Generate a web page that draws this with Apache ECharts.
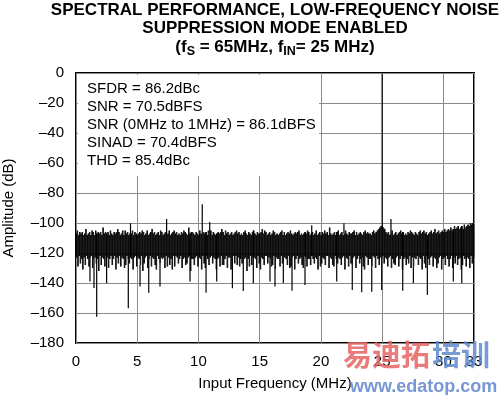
<!DOCTYPE html>
<html><head><meta charset="utf-8">
<script src="https://cdn.jsdelivr.net/npm/echarts@6/dist/echarts.min.js"></script>
<style>html,body{margin:0;padding:0;background:#fff}#c{width:500px;height:395px}</style>
</head><body><div id="c"></div>
<script>
// ---- data ----
const titleLines = ['SPECTRAL PERFORMANCE, LOW-FREQUENCY NOISE', 'SUPPRESSION MODE ENABLED'];
const statsLines = ['SFDR = 86.2dBc', 'SNR = 70.5dBFS', 'SNR (0MHz to 1MHz) = 86.1dBFS', 'SINAD = 70.4dBFS', 'THD = 85.4dBc'];
const xMaxMHz = 32.5;          // fs/2, labelled "33"
const xMaxLabel = '33';
const yMinDb = -180, yMaxDb = 0;
const binWidthMHz = 0.05;
// noise floor bins (dB), 0.00 .. 32.50 MHz in 0.05 MHz steps (alternating local peak / local trough)
const noiseDb = [
 -107,-123,-105,-129,-108,-122,-106,-127,-107,-124,
 -106,-131,-108,-123,-107,-128,-104,-122,-108,-124,
 -107,-129,-106,-123,-108,-122,-105,-130,-106,-124,
 -108,-123,-105,-127,-107,-124,-106,-132,-107,-122,
 -106,-128,-108,-123,-103,-124,-107,-129,-106,-122,
 -107,-123,-106,-130,-108,-124,-105,-122,-107,-128,
 -108,-124,-106,-122,-107,-131,-106,-123,-104,-127,
 -106,-122,-108,-129,-107,-123,-105,-124,-108,-130,
 -105,-128,-107,-122,-106,-124,-108,-127,-107,-123,
 -107,-124,-105,-131,-108,-123,-106,-122,-107,-129,
 -108,-123,-107,-124,-106,-128,-107,-122,-105,-132,
 -106,-127,-108,-123,-107,-122,-105,-130,-108,-124,
 -107,-122,-106,-129,-104,-123,-107,-124,-106,-128,
 -108,-131,-107,-122,-106,-124,-108,-127,-105,-123,
 -106,-124,-108,-123,-107,-130,-106,-122,-108,-129,
 -107,-123,-105,-128,-108,-124,-107,-131,-106,-122,
 -105,-129,-107,-122,-106,-123,-108,-127,-107,-124,
 -108,-122,-106,-130,-107,-124,-105,-123,-106,-128,
 -107,-127,-108,-123,-103,-122,-107,-132,-106,-124,
 -106,-124,-107,-128,-108,-123,-106,-122,-107,-129,
 -108,-123,-105,-124,-107,-131,-108,-122,-106,-127,
 -107,-130,-106,-122,-108,-124,-105,-128,-107,-123,
 -105,-122,-108,-127,-106,-123,-107,-124,-108,-131,
 -107,-124,-106,-123,-107,-129,-106,-122,-104,-128,
 -106,-128,-108,-124,-105,-122,-107,-130,-106,-123,
 -108,-123,-107,-131,-106,-124,-108,-122,-107,-127,
 -106,-122,-105,-128,-107,-123,-106,-129,-108,-124,
 -107,-127,-108,-122,-106,-124,-105,-123,-107,-132,
 -108,-124,-106,-129,-107,-122,-108,-128,-106,-123,
 -105,-123,-107,-124,-108,-130,-106,-122,-107,-127,
 -107,-131,-106,-123,-104,-124,-107,-128,-105,-122,
 -106,-122,-108,-127,-107,-123,-106,-124,-108,-129,
 -107,-128,-105,-122,-106,-131,-108,-123,-107,-124,
 -108,-124,-107,-129,-106,-122,-105,-127,-108,-123,
 -106,-123,-108,-124,-107,-128,-106,-122,-107,-130,
 -105,-129,-107,-123,-108,-122,-107,-131,-106,-124,
 -107,-122,-106,-127,-105,-124,-108,-123,-107,-128,
 -108,-130,-107,-122,-106,-123,-107,-129,-105,-124,
 -106,-124,-108,-128,-107,-122,-106,-124,-108,-127,
 -107,-123,-105,-124,-108,-131,-107,-122,-106,-129,
 -108,-127,-106,-123,-107,-124,-105,-128,-107,-122,
 -106,-122,-108,-130,-103,-123,-107,-124,-108,-128,
 -107,-129,-106,-122,-108,-124,-106,-127,-105,-123,
 -108,-124,-107,-128,-106,-123,-108,-122,-107,-131,
 -105,-123,-107,-124,-108,-129,-106,-122,-107,-127,
 -107,-128,-106,-123,-105,-122,-108,-130,-106,-124,
 -108,-122,-107,-127,-106,-124,-107,-123,-108,-129,
 -106,-131,-105,-122,-107,-123,-106,-128,-107,-124,
 -107,-124,-108,-129,-106,-122,-105,-123,-107,-130,
 -106,-122,-105,-124,-104,-128,-103,-123,-102,-124,
 -101,-122,-103,-127,-104,-123,-106,-124,-107,-129,
 -106,-123,-108,-122,-107,-130,-105,-124,-108,-127,
 -107,-128,-106,-123,-108,-122,-107,-129,-106,-124,
 -105,-122,-107,-131,-106,-124,-108,-123,-107,-128,
 -108,-124,-106,-127,-107,-122,-105,-130,-106,-123,
 -107,-129,-108,-123,-106,-124,-107,-122,-108,-128,
 -106,-123,-105,-124,-107,-131,-106,-122,-105,-127,
 -107,-130,-106,-122,-108,-124,-107,-128,-106,-123,
 -105,-122,-107,-129,-106,-123,-104,-124,-107,-130,
 -106,-127,-105,-123,-107,-122,-106,-131,-105,-124,
 -106,-123,-104,-128,-106,-122,-105,-124,-104,-129,
 -105,-124,-103,-122,-105,-130,-104,-123,-102,-127,
 -104,-122,-103,-128,-102,-124,-104,-123,-103,-131,
 -102,-128,-104,-122,-101,-124,-103,-129,-102,-123,
 -101,-124,-102,-130,-100,-122,-101,-127,-100,-123,
 -101
];
// spurs and deep nulls
const spurFreqMHz = [1.14,1.47,1.69,2.50,4.27,4.45,5.23,5.94,6.86,7.40,9.31,10.31,10.62,10.92,11.49,12.77,13.66,14.48,15.84,16.25,16.93,17.64,18.70,19.25,21.29,21.88,22.56,23.33,24.15,24.96,25.00,25.72,26.68,27.55,28.69,30.81,31.50];
const spurAmpDb   = [-139,-143.3,-162.5,-140,-156.9,-100.2,-142.4,-146.5,-142.4,-97.3,-139,-87.5,-146.5,-99.3,-139,-143.5,-145.3,-140.2,-139,-142.4,-140,-145.1,-141.3,-101.5,-139,-100.2,-144.7,-146.2,-145.8,-144.7,-0.5,-97.3,-145.1,-140,-148,-139,-140.2];

// ---- build series ----
const noisePts = noiseDb.map((v, i) => [Math.round(i * binWidthMHz * 1000) / 1000, v]);
const bandItems = noisePts.slice(0, -1).map((p, i) => [p[0], p[1], noisePts[i + 1][0], noisePts[i + 1][1]]);
const spurPts = [];
spurFreqMHz.forEach((f, i) => {
  const base = noiseDb[Math.min(noiseDb.length - 1, Math.round(f / binWidthMHz))];
  spurPts.push([f, base], [f, spurAmpDb[i]], [f, base], null);
});

const FONT = '"Liberation Sans", Arial, Helvetica, sans-serif';
const chart = echarts.init(document.getElementById('c'), null, {renderer: 'canvas'});
const gridCol = '#8a8a8a';
chart.setOption({
  animation: false,
  textStyle: {fontFamily: FONT, color: '#000'},
  grid: {left: 76, right: 26, top: 73, bottom: 52, show: true, borderColor: '#000', borderWidth: 2,
    backgroundColor: 'transparent', containLabel: false, outerBoundsMode: 'none'},
  xAxis: {
    type: 'value', min: 0, max: xMaxMHz, interval: 5,
    name: 'Input Frequency (MHz)', nameLocation: 'middle', nameGap: 33,
    nameTextStyle: {fontSize: 15, color: '#000', fontFamily: FONT},
    axisLine: {show: false}, axisTick: {show: false},
    axisLabel: {fontSize: 15, color: '#000', margin: 11, showMaxLabel: true, showMinLabel: true, fontFamily: FONT,
      formatter: v => (Math.abs(v - xMaxMHz) < 1e-6 ? xMaxLabel : String(v))},
    splitLine: {show: true, lineStyle: {color: gridCol, width: 1}}
  },
  yAxis: {
    type: 'value', min: yMinDb, max: yMaxDb, interval: 20,
    name: 'Amplitude (dB)', nameLocation: 'middle', nameGap: 60,
    nameTextStyle: {fontSize: 15, color: '#000', fontFamily: FONT},
    axisLine: {show: false}, axisTick: {show: false},
    axisLabel: {fontSize: 15, color: '#000', margin: 12, fontFamily: FONT,
      formatter: v => (v === 0 ? '0' : (v < 0 ? '\u2013' + Math.abs(v) : String(v)))},
    splitLine: {show: true, lineStyle: {color: gridCol, width: 1}}
  },
  graphic: [
    {type: 'rect', z: 1, silent: true, shape: {x: 78, y: 75, width: 241, height: 101}, style: {fill: '#fff'}},
    ...statsLines.map((t, i) => ({type: 'text', z: 10, silent: true, x: 87, y: 89 + i * 18,
      style: {text: t, fill: '#000', font: '15px ' + FONT, textAlign: 'left', textVerticalAlign: 'middle', align: 'left', verticalAlign: 'middle'}})),
    {type: 'text', z: 10, silent: true, x: 275, y: 10,
      style: {text: titleLines[0], fill: '#000', font: 'bold 17px ' + FONT, textAlign: 'center', textVerticalAlign: 'middle', align: 'center', verticalAlign: 'middle'}},
    {type: 'text', z: 10, silent: true, x: 275, y: 28.5,
      style: {text: titleLines[1], fill: '#000', font: 'bold 17px ' + FONT, textAlign: 'center', textVerticalAlign: 'middle', align: 'center', verticalAlign: 'middle'}},
    {type: 'text', z: 10, silent: true, x: 275, y: 47,
      style: {text: '{b|(f}{s|S}{b| = 65MHz, f}{s|IN}{b|= 25 MHz)}', fill: '#000', textAlign: 'center', textVerticalAlign: 'middle', align: 'center', verticalAlign: 'middle',
        rich: {
          b: {fontSize: 17, fontWeight: 'bold', fontFamily: FONT, lineHeight: 22, fill: '#000', color: '#000'},
          s: {fontSize: 12.5, fontWeight: 'bold', fontFamily: FONT, lineHeight: 11, verticalAlign: 'bottom', fill: '#000', color: '#000'}
        }}},
    // watermark
    {type: 'text', z: 20, silent: true, x: 343, y: 355,
      style: {text: '易迪拓', fill: 'rgba(230,100,100,0.85)', font: 'bold 29px "Noto Sans CJK SC"', textAlign: 'left', textVerticalAlign: 'middle', align: 'left', verticalAlign: 'middle'}},
    {type: 'text', z: 20, silent: true, x: 432, y: 355,
      style: {text: '培训', fill: 'rgba(96,136,206,0.85)', font: 'bold 29px "Noto Sans CJK SC"', textAlign: 'left', textVerticalAlign: 'middle', align: 'left', verticalAlign: 'middle'}},
    {type: 'text', z: 20, silent: true, x: 350, y: 387,
      style: {text: 'www.edatop.com', fill: 'rgba(104,140,208,0.9)', font: 'bold 18px ' + FONT, textAlign: 'left', textVerticalAlign: 'middle', align: 'left', verticalAlign: 'middle'}}
  ],
  series: [
    {type: 'custom', data: bandItems, silent: true, z: 3,
      encode: {x: [0, 2], y: [1, 3]},
      renderItem: (params, api) => {
        const a = api.coord([api.value(0), api.value(1)]);
        const b = api.coord([api.value(2), api.value(3)]);
        const y0 = Math.min(a[1], b[1]), y1 = Math.max(a[1], b[1]);
        return {type: 'rect', shape: {x: a[0], y: y0, width: b[0] - a[0] + 0.3, height: y1 - y0}, style: {fill: '#000'}};
      }},
    {type: 'line', data: spurPts, showSymbol: false, symbol: 'none', connectNulls: false, silent: true, z: 4,
      lineStyle: {color: '#000', width: 1.2}, clip: true}
  ]
});
</script></body></html>
